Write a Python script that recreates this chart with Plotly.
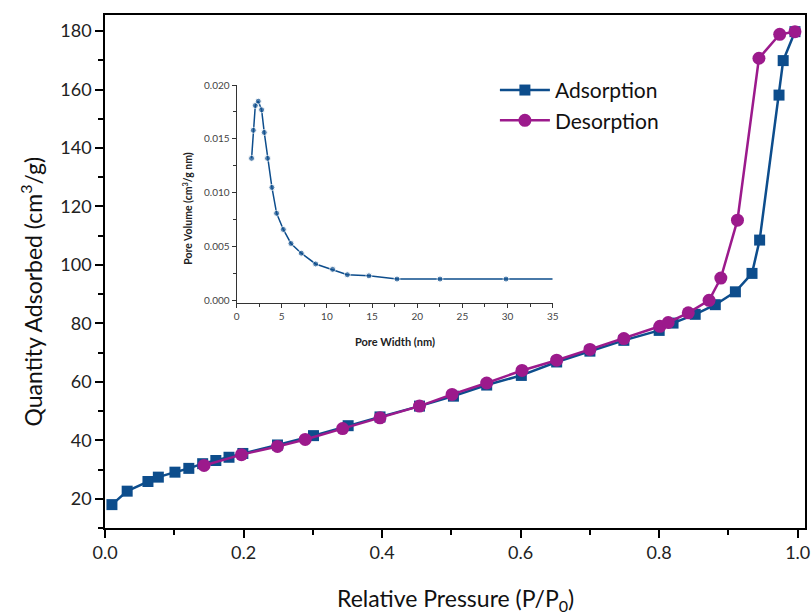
import plotly.graph_objects as go

# isotherm data
ads_p = [0.010, 0.032, 0.062, 0.077, 0.101, 0.121, 0.141, 0.160, 0.179, 0.199,
         0.249, 0.301, 0.351, 0.397, 0.454, 0.503, 0.551, 0.601, 0.652, 0.700,
         0.749, 0.800, 0.820, 0.852, 0.881, 0.910, 0.934, 0.945, 0.973, 0.979, 0.996]
ads_q = [18.0, 22.6, 25.9, 27.4, 29.1, 30.4, 32.0, 33.1, 34.2, 35.5,
         38.4, 41.6, 45.0, 48.0, 51.7, 55.1, 58.9, 62.2, 66.8, 70.5,
         74.2, 77.6, 80.1, 83.1, 86.4, 90.8, 97.1, 108.5, 158.1, 169.9, 179.8]

des_p = [0.143, 0.197, 0.249, 0.289, 0.343, 0.397, 0.454, 0.501, 0.551, 0.602,
         0.652, 0.700, 0.749, 0.801, 0.813, 0.842, 0.872, 0.889, 0.913, 0.944,
         0.974, 0.996]
des_q = [31.4, 35.1, 37.9, 40.3, 44.0, 47.7, 51.7, 55.7, 59.6, 63.9,
         67.4, 71.1, 74.8, 79.0, 80.3, 83.6, 87.9, 95.5, 115.3, 170.7,
         178.9, 179.8]

# pore size distribution (inset)
pore_w = [1.66, 1.85, 2.07, 2.40, 2.77, 3.06, 3.43, 3.91, 4.43, 5.17,
          6.02, 7.16, 8.75, 10.63, 12.26, 14.65, 17.76, 22.52, 29.83, 35.0]
pore_v = [0.0132, 0.0158, 0.0181, 0.0185, 0.0177, 0.0156, 0.0132, 0.0105, 0.0081, 0.0066,
          0.0053, 0.0044, 0.0034, 0.0029, 0.0024, 0.0023, 0.0020, 0.0020, 0.0020, 0.0020]

BLUE = "#0d4d8c"
PURPLE = "#9c1a8c"
FONT = "Lato"

fig = go.Figure()

fig.add_trace(go.Scatter(
    x=ads_p, y=ads_q, name="Adsorption", mode="lines+markers",
    line=dict(color=BLUE, width=2.5),
    marker=dict(symbol="square", size=11, color=BLUE),
))
fig.add_trace(go.Scatter(
    x=des_p, y=des_q, name="Desorption", mode="lines+markers",
    line=dict(color=PURPLE, width=2.5),
    marker=dict(symbol="circle", size=13, color=PURPLE),
))

# inset: last point of the curve carries no marker
sizes = [6] * (len(pore_w) - 1) + [0]
fig.add_trace(go.Scatter(
    x=pore_w, y=pore_v, mode="lines+markers", showlegend=False,
    line=dict(color=BLUE, width=1.5),
    marker=dict(size=sizes, color=BLUE),
    xaxis="x2", yaxis="y2",
))

axis_common = dict(
    showline=True, linecolor="black", linewidth=1.5, mirror=True,
    ticks="outside", ticklen=8, tickwidth=1.5, tickcolor="black",
    showgrid=False, zeroline=False,
    tickfont=dict(family=FONT, size=18, color="#222"),
)

fig.update_layout(
    width=811, height=615,
    margin=dict(l=105, r=6, t=15, b=87, autoexpand=False),
    paper_bgcolor="white", plot_bgcolor="white",
    font=dict(family=FONT),
    xaxis=dict(
        range=[0, 1.0105], tickvals=[0, 0.2, 0.4, 0.6, 0.8, 1.0], tickformat=".1f",
        minor=dict(dtick=0.1, tick0=0, ticks="outside", ticklen=5, tickwidth=1.5, tickcolor="black"),
        **axis_common,
    ),
    yaxis=dict(
        range=[10, 185.5], tick0=0, dtick=20,
        minor=dict(dtick=10, tick0=0, ticks="outside", ticklen=5, tickwidth=1.5, tickcolor="black"),
        **axis_common,
    ),
    xaxis2=dict(
        domain=[0.188, 0.6396], anchor="y2", range=[0, 35], dtick=5,
        showline=True, linecolor="#333", linewidth=1, ticks="outside", ticklen=4,
        tickcolor="#333", showgrid=False, zeroline=False,
        minor=dict(dtick=2.5, ticks="outside", ticklen=2.5, tickcolor="#333"),
        tickfont=dict(family=FONT, size=10, color="#444"),
    ),
    yaxis2=dict(
        domain=[0.438, 0.8635], anchor="x2", range=[-0.00025, 0.020], dtick=0.005,
        tickformat=".3f",
        showline=True, linecolor="#333", linewidth=1, ticks="outside", ticklen=4,
        tickcolor="#333", showgrid=False, zeroline=False,
        minor=dict(dtick=0.0025, ticks="outside", ticklen=2.5, tickcolor="#333"),
        tickfont=dict(family=FONT, size=10, color="#444"),
    ),
    legend=dict(
        x=0.557, y=0.893, xanchor="left", yanchor="top",
        bgcolor="rgba(0,0,0,0)", font=dict(family=FONT, size=21, color="#111"),
        tracegroupgap=2, itemwidth=50,
    ),
)

fig.add_annotation(
    text="Quantity Adsorbed (cm<sup>3</sup>/g)", textangle=-90,
    xref="paper", yref="paper", x=-0.105, y=0.46, xanchor="center", yanchor="middle",
    showarrow=False, font=dict(family=FONT, size=23, color="#111"),
)
fig.add_annotation(
    text="Relative Pressure (P/P<sub>0</sub>)",
    xref="paper", yref="paper", x=0.5, y=-0.14, xanchor="center", yanchor="middle",
    showarrow=False, font=dict(family=FONT, size=23, color="#111"),
)
fig.add_annotation(
    text="<b>Pore Volume (cm<sup>3</sup>/g nm)</b>", textangle=-90,
    xref="paper", yref="paper", x=(186.7 - 105) / 700, y=(528 - 208) / 513,
    xanchor="center", yanchor="middle",
    showarrow=False, font=dict(family=FONT, size=10.5, color="#222"),
)
fig.add_annotation(
    text="<b>Pore Width (nm)</b>",
    xref="paper", yref="paper", x=(394.7 - 105) / 700, y=(528 - 341.7) / 513,
    xanchor="center", yanchor="middle",
    showarrow=False, font=dict(family=FONT, size=11, color="#222"),
)

# drop the default page margin and scrollbars so the figure fills the window exactly
fig.write_html(
    "out.html",
    config={"displayModeBar": False},
    post_script="document.body.style.margin = '0'; document.body.style.overflow = 'hidden';",
)
